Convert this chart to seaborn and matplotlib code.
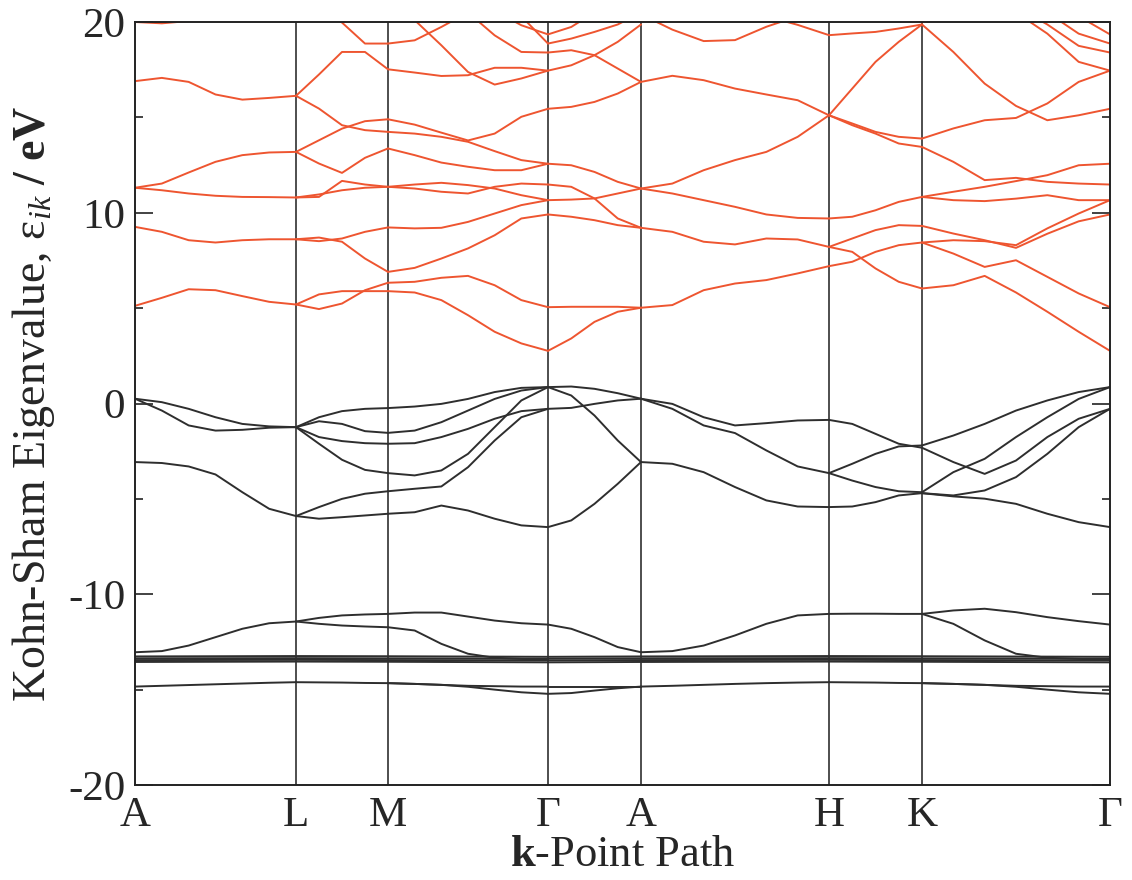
import numpy as np
import pandas as pd
import matplotlib
matplotlib.use("Agg")
import matplotlib.pyplot as plt
import seaborn as sns

# High-symmetry points along the k-path and their path coordinate
path_labels = ["A", "L", "M", "Γ", "A", "H", "K", "Γ"]
path_k = [0, 161, 253, 413, 506, 694, 787, 975]

# ---- conduction bands (eV), sampled evenly along each path segment ----
cond_A_L = [
    [5.12, 5.54, 5.99, 5.94, 5.63, 5.33, 5.19],
    [9.26, 9.00, 8.56, 8.44, 8.56, 8.61, 8.61],
    [11.31, 11.18, 11.01, 10.89, 10.83, 10.82, 10.80],
    [11.31, 11.53, 12.11, 12.67, 13.02, 13.16, 13.19],
    [16.90, 17.07, 16.86, 16.20, 15.93, 16.02, 16.13],
    [20.00, 19.93, 20.05, 20.50, 21.00, 21.50, 22.00],
]
cond_L_M = [
    [5.19, 5.72, 5.89, 5.89, 5.89],
    [5.19, 4.95, 5.24, 5.94, 6.33],
    [8.61, 8.70, 8.48, 7.60, 6.90],
    [8.61, 8.51, 8.65, 9.00, 9.23],
    [10.80, 10.96, 11.18, 11.31, 11.36],
    [10.80, 10.83, 11.67, 11.48, 11.36],
    [13.19, 12.58, 12.09, 12.88, 13.37],
    [13.19, 13.80, 14.41, 14.80, 14.90],
    [16.13, 17.25, 18.43, 18.43, 17.52],
    [16.13, 15.46, 14.59, 14.33, 14.24],
    [22.00, 20.70, 19.97, 18.87, 18.87],
]
cond_M_G = [
    [5.89, 5.82, 5.42, 4.63, 3.76, 3.15, 2.76],
    [6.33, 6.38, 6.59, 6.69, 6.20, 5.42, 5.05],
    [6.90, 7.11, 7.60, 8.13, 8.82, 9.70, 9.91],
    [9.23, 9.18, 9.21, 9.52, 9.96, 10.40, 10.66],
    [11.36, 11.48, 11.57, 11.45, 11.27, 10.92, 10.66],
    [11.36, 11.27, 11.10, 11.01, 11.36, 11.53, 11.48],
    [14.90, 14.62, 14.20, 13.79, 14.15, 15.03, 15.45],
    [14.24, 14.15, 13.98, 13.72, 13.23, 12.76, 12.57],
    [13.37, 13.02, 12.63, 12.41, 12.23, 12.23, 12.57],
    [17.52, 17.35, 17.17, 17.21, 17.60, 17.60, 17.45],
    [21.50, 20.10, 18.78, 17.38, 16.72, 17.04, 17.45],
    [18.87, 19.04, 19.74, 20.50, 21.00, 21.50, 22.00],
    [22.00, 21.50, 21.00, 20.50, 19.30, 18.43, 18.40],
    [22.00, 22.00, 21.50, 21.00, 20.60, 19.83, 19.35],
    [22.00, 22.00, 21.50, 21.00, 20.80, 20.30, 18.87],
]
cond_G_A = [
    [2.76, 3.41, 4.28, 4.81, 5.02],
    [5.05, 5.07, 5.07, 5.07, 5.02],
    [9.91, 9.79, 9.61, 9.35, 9.21],
    [11.48, 11.36, 10.75, 9.70, 9.21],
    [10.66, 10.69, 10.75, 11.01, 11.27],
    [12.57, 12.49, 12.14, 11.62, 11.27],
    [15.45, 15.55, 15.81, 16.25, 16.86],
    [17.45, 17.73, 18.26, 18.96, 19.87],
    [18.40, 18.52, 18.26, 17.56, 16.86],
    [19.35, 19.74, 20.50, 21.00, 21.50],
    [18.87, 19.13, 19.48, 19.87, 20.50],
]
cond_A_H = [
    [5.02, 5.16, 5.94, 6.29, 6.47, 6.82, 7.20],
    [9.21, 9.00, 8.48, 8.34, 8.65, 8.60, 8.21],
    [11.27, 11.01, 10.66, 10.31, 9.91, 9.73, 9.70],
    [11.27, 11.53, 12.23, 12.76, 13.19, 13.98, 15.11],
    [16.86, 17.18, 16.95, 16.51, 16.20, 15.90, 15.11],
    [20.40, 19.60, 19.00, 19.05, 19.75, 20.30, 20.80],
    [21.50, 21.20, 20.90, 20.60, 20.30, 19.85, 19.31],
]
cond_H_K = [
    [19.31, 19.40, 19.48, 19.66, 19.87],
    [15.11, 16.51, 17.91, 18.96, 19.87],
    [15.11, 14.68, 14.24, 13.98, 13.89],
    [15.11, 14.59, 14.15, 13.63, 13.45],
    [9.70, 9.79, 10.13, 10.57, 10.83],
    [8.21, 8.65, 9.09, 9.35, 9.31],
    [8.21, 7.95, 7.08, 6.38, 6.03],
    [7.20, 7.43, 7.95, 8.30, 8.44],
]
cond_K_G = [
    [6.03, 6.20, 6.69, 5.82, 4.81, 3.76, 2.76],
    [8.44, 7.86, 7.16, 7.51, 6.64, 5.77, 5.05],
    [9.31, 8.91, 8.56, 8.16, 8.90, 9.55, 9.91],
    [8.44, 8.56, 8.51, 8.30, 9.18, 9.96, 10.66],
    [10.83, 11.10, 11.36, 11.66, 11.97, 12.49, 12.57],
    [10.83, 10.66, 10.61, 10.74, 10.92, 10.66, 10.66],
    [13.45, 12.67, 11.71, 11.83, 11.62, 11.53, 11.48],
    [13.89, 14.42, 14.85, 14.97, 15.73, 16.86, 17.45],
    [19.87, 18.43, 16.77, 15.60, 14.85, 15.11, 15.45],
    [22.00, 22.00, 21.00, 20.50, 19.39, 17.91, 17.45],
    [22.00, 22.00, 21.00, 20.80, 19.87, 18.75, 18.40],
    [22.00, 22.00, 21.50, 21.00, 20.50, 19.39, 18.87],
    [22.00, 22.00, 22.00, 21.50, 21.00, 20.30, 19.35],
]

# ---- valence bands (eV) ----
val_A_L = [
    [0.25, 0.07, -0.28, -0.72, -1.07, -1.20, -1.24],
    [0.25, -0.37, -1.15, -1.42, -1.38, -1.27, -1.24],
    [-3.07, -3.12, -3.30, -3.72, -4.65, -5.52, -5.90],
    [-13.04, -12.98, -12.69, -12.25, -11.81, -11.52, -11.43],
    [-14.84, -14.80, -14.76, -14.72, -14.68, -14.64, -14.61],
]
val_L_M = [
    [-1.24, -0.72, -0.40, -0.28, -0.24],
    [-1.24, -0.93, -1.07, -1.45, -1.54],
    [-1.24, -1.76, -1.97, -2.08, -2.11],
    [-1.24, -2.11, -2.95, -3.48, -3.65],
    [-5.90, -5.43, -5.00, -4.73, -4.60],
    [-5.90, -6.04, -5.96, -5.87, -5.78],
    [-11.43, -11.24, -11.11, -11.06, -11.03],
    [-11.43, -11.55, -11.64, -11.69, -11.73],
    [-14.61, -14.62, -14.63, -14.65, -14.66],
]
val_M_G = [
    [-0.24, -0.16, -0.02, 0.24, 0.60, 0.82, 0.86],
    [-1.54, -1.42, -0.98, -0.37, 0.24, 0.68, 0.86],
    [-2.11, -2.08, -1.76, -1.33, -0.80, -0.40, -0.28],
    [-3.65, -3.77, -3.51, -2.64, -1.24, 0.16, 0.86],
    [-4.60, -4.47, -4.35, -3.34, -1.94, -0.72, -0.28],
    [-5.78, -5.70, -5.35, -5.61, -6.04, -6.39, -6.48],
    [-11.03, -10.96, -10.96, -11.17, -11.38, -11.52, -11.59],
    [-11.73, -11.90, -12.60, -13.12, -13.33, -13.39, -13.42],
    [-14.66, -14.70, -14.75, -14.85, -15.00, -15.14, -15.22],
    [-14.66, -14.70, -14.75, -14.80, -14.82, -14.84, -14.84],
]
val_G_A = [
    [0.86, 0.89, 0.77, 0.54, 0.25],
    [0.86, 0.42, -0.63, -1.94, -3.07],
    [-0.28, -0.23, -0.02, 0.16, 0.25],
    [-6.48, -6.13, -5.26, -4.21, -3.07],
    [-11.59, -11.81, -12.25, -12.77, -13.04],
    [-15.22, -15.18, -15.05, -14.93, -14.84],
    [-14.84, -14.84, -14.84, -14.84, -14.84],
]
val_A_H = [
    [0.25, -0.02, -0.72, -1.15, -1.03, -0.89, -0.86],
    [0.25, -0.28, -1.15, -1.55, -2.46, -3.30, -3.65],
    [-3.07, -3.16, -3.60, -4.38, -5.08, -5.40, -5.43],
    [-13.04, -12.98, -12.69, -12.16, -11.55, -11.11, -11.03],
    [-14.84, -14.80, -14.75, -14.70, -14.66, -14.63, -14.61],
]
val_H_K = [
    [-0.86, -1.07, -1.59, -2.11, -2.32],
    [-3.65, -3.16, -2.64, -2.25, -2.20],
    [-3.65, -4.04, -4.38, -4.60, -4.65],
    [-5.43, -5.40, -5.17, -4.82, -4.70],
    [-11.03, -11.02, -11.02, -11.03, -11.03],
    [-14.61, -14.62, -14.63, -14.65, -14.66],
]
val_K_G = [
    [-2.20, -1.68, -1.07, -0.37, 0.16, 0.60, 0.86],
    [-2.32, -3.07, -3.69, -2.99, -1.76, -0.80, -0.28],
    [-4.65, -3.60, -2.90, -1.76, -0.72, 0.24, 0.86],
    [-4.70, -4.82, -4.56, -3.86, -2.64, -1.24, -0.28],
    [-4.70, -4.87, -4.99, -5.26, -5.78, -6.22, -6.48],
    [-11.03, -10.85, -10.76, -10.94, -11.20, -11.41, -11.59],
    [-11.03, -11.55, -12.42, -13.12, -13.33, -13.39, -13.42],
    [-14.66, -14.70, -14.75, -14.85, -15.00, -15.14, -15.22],
    [-14.66, -14.70, -14.75, -14.80, -14.82, -14.84, -14.84],
]

# Narrow semicore manifold, given at the high-symmetry points
semicore_bands = [
    [-13.26, -13.24, -13.25, -13.28, -13.26, -13.24, -13.25, -13.28],
    [-13.36, -13.35, -13.36, -13.38, -13.36, -13.35, -13.36, -13.38],
    [-13.45, -13.44, -13.45, -13.47, -13.45, -13.44, -13.45, -13.47],
    [-13.55, -13.53, -13.54, -13.57, -13.55, -13.53, -13.54, -13.57],
]

segments = [
    (cond_A_L, val_A_L), (cond_L_M, val_L_M), (cond_M_G, val_M_G),
    (cond_G_A, val_G_A), (cond_A_H, val_A_H), (cond_H_K, val_H_K),
    (cond_K_G, val_K_G),
]

# Long-form table: one row per sampled eigenvalue
rows = []
line_id = 0
for i, (cond, val) in enumerate(segments):
    for kind, bands in (("conduction", cond), ("valence", val)):
        for band in bands:
            ks = np.linspace(path_k[i], path_k[i + 1], len(band))
            rows += [(line_id, kind, k, e) for k, e in zip(ks, band)]
            line_id += 1
for band in semicore_bands:
    rows += [(line_id, "valence", k, e) for k, e in zip(path_k, band)]
    line_id += 1
df = pd.DataFrame(rows, columns=["line", "kind", "k", "energy"])

sns.set_style("ticks")
plt.rcParams["font.family"] = ["Liberation Serif", "DejaVu Serif"]
plt.rcParams["axes.unicode_minus"] = False
plt.rcParams["mathtext.fontset"] = "custom"
plt.rcParams["mathtext.rm"] = "Liberation Serif"
plt.rcParams["mathtext.it"] = "Liberation Serif:italic"
plt.rcParams["mathtext.bf"] = "Liberation Serif:bold"

fig = plt.figure(figsize=(11.32, 8.8), dpi=100)
ax = fig.add_axes([135 / 1132, 1 - 785 / 880, 975 / 1132, 763 / 880])

for k in path_k[1:-1]:
    ax.axvline(k, color="#1e1e1e", lw=1.1, zorder=1)

sns.lineplot(
    data=df, x="k", y="energy", hue="kind", units="line", estimator=None,
    sort=False, palette={"conduction": "#ee5530", "valence": "#2e2e2e"},
    lw=1.4, legend=False, ax=ax, zorder=2,
)

ax.set_xlim(path_k[0], path_k[-1])
ax.set_ylim(-20, 20)
ax.set_xticks(path_k)
ax.set_xticklabels(path_labels, fontsize=31)
ax.set_yticks([-20, -10, 0, 10, 20])
ax.set_yticks([-15, -5, 5, 15], minor=True)
ax.tick_params(axis="y", which="major", direction="in", left=True, right=True,
               length=13, width=1.2, labelsize=31, pad=7, color="#222222")
ax.tick_params(axis="y", which="minor", direction="in", left=True, right=True,
               length=6, width=1.2, color="#222222")
ax.tick_params(axis="x", length=0, pad=8)
for s in ax.spines.values():
    s.set_linewidth(1.4)
    s.set_color("#222222")

ax.set_xlabel(r"$\mathbf{k}$-Point Path", fontsize=32, labelpad=0)
ax.set_ylabel(r"Kohn-Sham Eigenvalue, ε$_{ik}$ $\mathbf{/\ eV}$", fontsize=33, labelpad=8)

fig.savefig("out.png", dpi=100, facecolor="white")
